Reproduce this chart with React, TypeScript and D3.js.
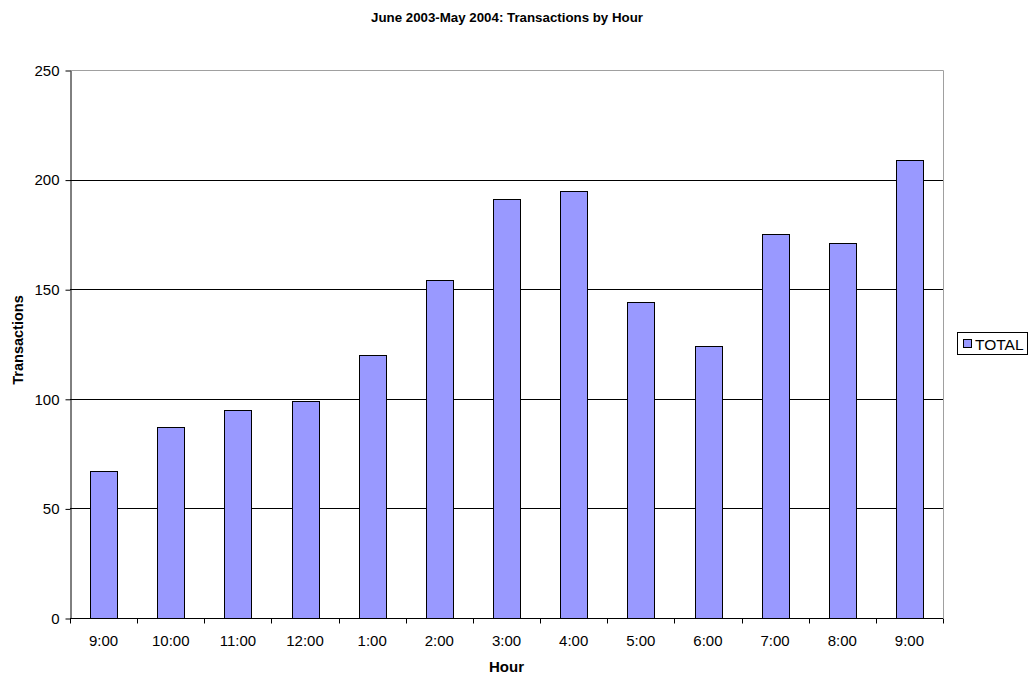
import React, { useRef, useEffect } from 'react';
import * as d3 from 'd3';

const hours = ['9:00', '10:00', '11:00', '12:00', '1:00', '2:00', '3:00', '4:00', '5:00', '6:00', '7:00', '8:00', '9:00'];
const totals = [67, 87, 95, 99, 120, 154, 191, 195, 144, 124, 175, 171, 209];
const yTicks = [0, 50, 100, 150, 200, 250];

const W = 1032, H = 679;
const left = 70, right = 943, top = 70, bottom = 618;
const font = '"Liberation Sans", Arial, sans-serif';

function App() {
  const svgRef = useRef<SVGSVGElement>(null);

  useEffect(() => {
    const svg = d3.select(svgRef.current);
    svg.selectAll('*').remove();

    const idx = hours.map((_, i) => i);
    const x = d3.scaleBand<number>().domain(idx).range([left, right]).paddingInner(0).paddingOuter(0);
    const y = d3.scaleLinear().domain([0, 250]).range([bottom, top]);

    svg.append('rect').attr('width', W).attr('height', H).attr('fill', '#fff');

    // plot frame (top/right gray)
    svg.append('path')
      .attr('d', `M${left},${top + 0.5}H${right + 0.5}V${bottom}`)
      .attr('fill', 'none').attr('stroke', '#a0a0a0').attr('stroke-width', 1);

    // gridlines
    svg.selectAll('.grid')
      .data(yTicks.filter(t => t > 0 && t < 250))
      .join('line')
      .attr('x1', left).attr('x2', right)
      .attr('y1', d => Math.round(y(d)) + 0.5).attr('y2', d => Math.round(y(d)) + 0.5)
      .attr('stroke', '#000').attr('stroke-width', 1);

    // bars
    const bw = x.bandwidth() * 0.4;
    svg.selectAll('.bar')
      .data(totals)
      .join('rect')
      .attr('x', (d, i) => Math.round(x(i)! + (x.bandwidth() - bw) / 2) + 0.5)
      .attr('y', d => Math.round(y(d)) + 0.5)
      .attr('width', Math.round(bw))
      .attr('height', d => Math.round(y(0)) - Math.round(y(d)))
      .attr('fill', '#9999ff').attr('stroke', '#000').attr('stroke-width', 1);

    // y axis
    const yAxis = d3.axisLeft(y).tickValues(yTicks).tickSize(5).tickPadding(6).tickSizeOuter(0);
    const gy = svg.append('g').attr('transform', `translate(${left + 0.5},0.5)`).call(yAxis);
    gy.selectAll('text').attr('font-family', font).attr('font-size', 15).attr('fill', '#000');
    gy.selectAll('line').attr('stroke', '#000');
    gy.select('.domain').attr('stroke', '#000');

    // x axis (ticks at category boundaries)
    const gx = svg.append('g').attr('transform', `translate(0,${bottom + 0.5})`);
    gx.append('line').attr('x1', left).attr('x2', right).attr('stroke', '#000');
    const bounds = d3.range(hours.length + 1).map(i => left + i * x.step());
    gx.selectAll('.tk').data(bounds).join('line')
      .attr('x1', d => Math.round(d) + 0.5).attr('x2', d => Math.round(d) + 0.5)
      .attr('y1', 0).attr('y2', 5).attr('stroke', '#000');
    gx.selectAll('.lb').data(hours).join('text')
      .attr('x', (d, i) => x(i)! + x.bandwidth() / 2)
      .attr('y', 27)
      .attr('text-anchor', 'middle')
      .attr('font-family', font).attr('font-size', 15)
      .text(d => d);

    // titles
    svg.append('text').attr('x', 507).attr('y', 22).attr('text-anchor', 'middle')
      .attr('font-family', font).attr('font-size', 13.3).attr('font-weight', 'bold')
      .text('June 2003-May 2004: Transactions by Hour');
    svg.append('text').attr('x', (left + right) / 2).attr('y', 672).attr('text-anchor', 'middle')
      .attr('font-family', font).attr('font-size', 15).attr('font-weight', 'bold')
      .text('Hour');
    svg.append('text').attr('transform', `translate(23,${(top + bottom) / 2 - 4}) rotate(-90)`)
      .attr('text-anchor', 'middle')
      .attr('font-family', font).attr('font-size', 14.5).attr('font-weight', 'bold')
      .text('Transactions');

    // legend
    const lg = svg.append('g');
    lg.append('rect').attr('x', 957.5).attr('y', 332.5).attr('width', 70).attr('height', 22)
      .attr('fill', '#fff').attr('stroke', '#000');
    lg.append('rect').attr('x', 963.5).attr('y', 339.5).attr('width', 8).attr('height', 8)
      .attr('fill', '#9999ff').attr('stroke', '#000');
    lg.append('text').attr('x', 975).attr('y', 349.5)
      .attr('font-family', font).attr('font-size', 15.5).text('TOTAL');
  }, []);

  return <svg ref={svgRef} width={W} height={H} style={{ position: 'absolute', left: 0, top: 0 }} />;
}

export default App;
